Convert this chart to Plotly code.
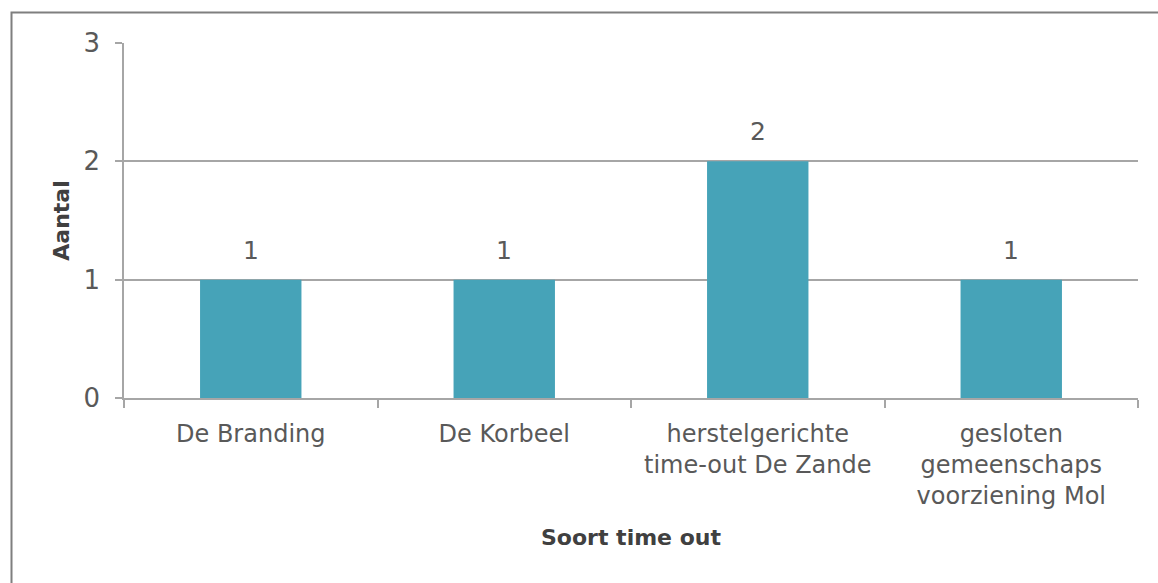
import plotly.graph_objects as go

categories = ["De Branding", "De Korbeel", "herstelgerichte<br>time-out De Zande",
              "gesloten<br>gemeenschaps<br>voorziening Mol"]
values = [1, 1, 2, 1]
y_ticks = [0, 1, 2, 3]

FONT = "DejaVu Sans"
GRID = "#A6A6A6"
TXT = "#595959"

fig = go.Figure(go.Bar(
    x=categories, y=values,
    marker=dict(color="#46A3B8", line=dict(width=0)),
    width=0.4,
    cliponaxis=False,
))

for c, v in zip(categories, values):
    fig.add_annotation(x=c, y=v, text=str(v), showarrow=False,
                       yanchor="bottom", yshift=13,
                       font=dict(family=FONT, size=25, color=TXT))

fig.update_layout(
    width=1158, height=583,
    margin=dict(l=124, r=20, t=43, b=185),
    paper_bgcolor="white", plot_bgcolor="white",
    font=dict(family=FONT, size=24, color=TXT),
    showlegend=False,
    xaxis=dict(
        showline=True, linecolor=GRID, linewidth=1.5,
        ticks="outside", ticklen=8, tickcolor=GRID, tickwidth=1.5,
        tickson="boundaries", showgrid=False,
        tickfont=dict(family=FONT, size=24, color=TXT),
        ticklabelstandoff=13,
        title=dict(text="<b>Soort time out</b>", font=dict(family=FONT, size=22, color="#404040"),
                   standoff=21),
    ),
    yaxis=dict(
        range=[0, 3], tickvals=y_ticks,
        showline=True, linecolor=GRID, linewidth=1.5,
        ticks="outside", ticklen=7, tickcolor=GRID, tickwidth=1.5,
        showgrid=True, gridcolor=GRID, gridwidth=1.5, zeroline=False,
        tickfont=dict(family=FONT, size=26, color=TXT),
        ticklabelstandoff=10,
        title=dict(text="<b>Aantal</b>", font=dict(family=FONT, size=22, color="#404040"),
                   standoff=8),
    ),
    shapes=[dict(type="rect", xref="paper", yref="paper",
                 x0=(11.5 - 124) / 1014, x1=1.2,
                 y0=-0.7, y1=(398 - 12.5) / 355,
                 line=dict(color="#7F7F7F", width=2), fillcolor="rgba(0,0,0,0)",
                 layer="below")],
)

fig.write_html("out.html", config={"displayModeBar": False},
               post_script="document.body.style.margin='0';document.body.style.overflow='hidden';")
